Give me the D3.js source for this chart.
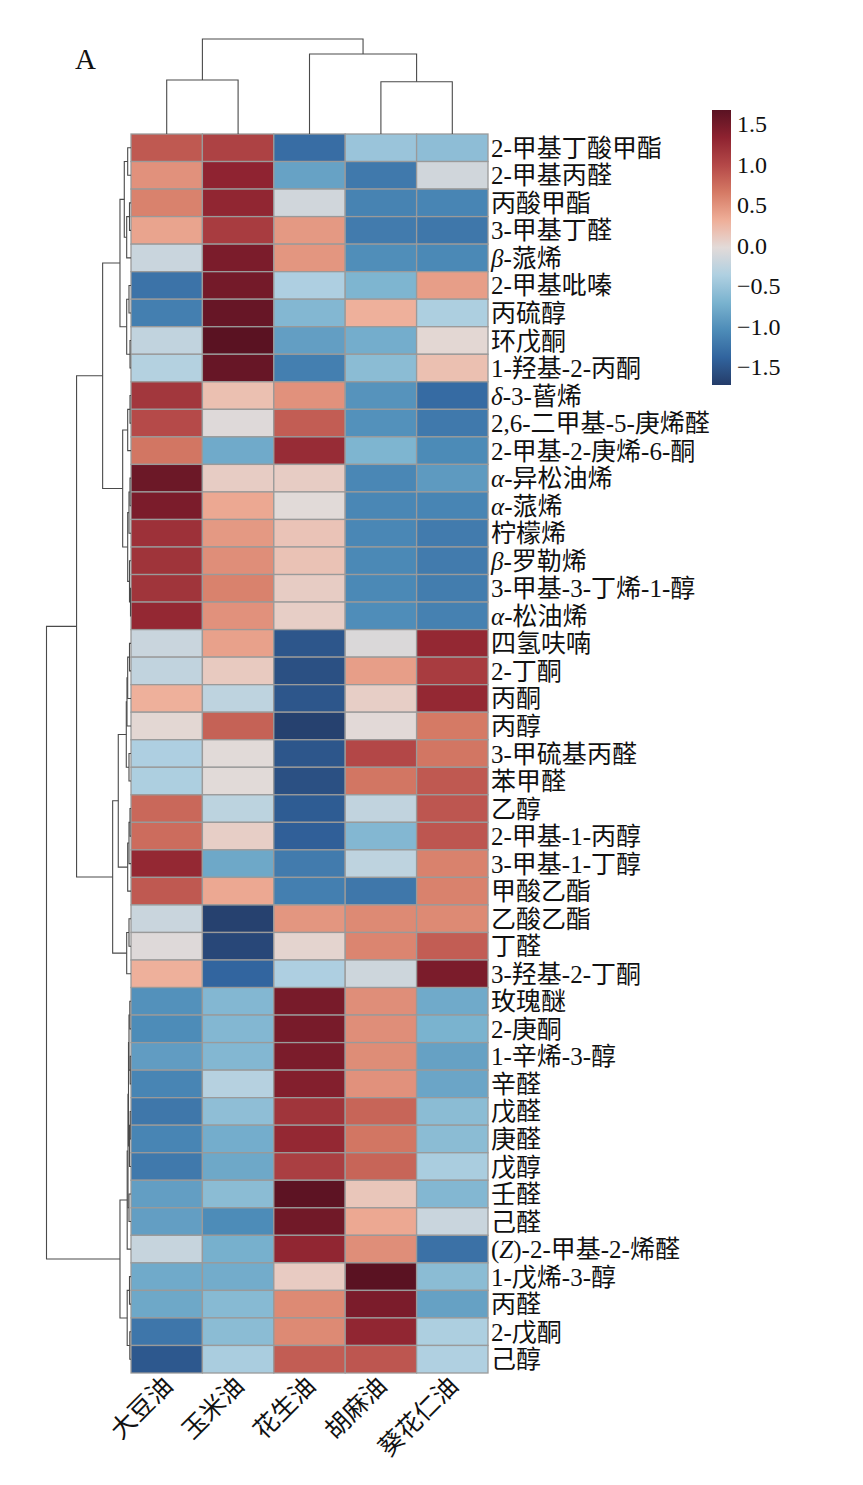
<!DOCTYPE html>
<html>
<head>
<meta charset="utf-8">
<script src="https://cdn.jsdelivr.net/npm/d3@7"></script>
<style>
  body { margin: 0; background: #fff; }
  text { font-family: "Liberation Serif", "Noto Sans CJK SC", serif; fill: #111; }
</style>
</head>
<body>
<svg id="chart" width="863" height="1485"></svg>
<script>
// columns (oils)
const oils = ["大豆油", "玉米油", "花生油", "胡麻油", "葵花仁油"];

// rows (volatile compounds), in dendrogram order
const compounds = [
  "2-甲基丁酸甲酯", "2-甲基丙醛", "丙酸甲酯", "3-甲基丁醛", "β-蒎烯",
  "2-甲基吡嗪", "丙硫醇", "环戊酮", "1-羟基-2-丙酮", "δ-3-蒈烯",
  "2,6-二甲基-5-庚烯醛", "2-甲基-2-庚烯-6-酮", "α-异松油烯", "α-蒎烯", "柠檬烯",
  "β-罗勒烯", "3-甲基-3-丁烯-1-醇", "α-松油烯", "四氢呋喃", "2-丁酮",
  "丙酮", "丙醇", "3-甲硫基丙醛", "苯甲醛", "乙醇",
  "2-甲基-1-丙醇", "3-甲基-1-丁醇", "甲酸乙酯", "乙酸乙酯", "丁醛",
  "3-羟基-2-丁酮", "玫瑰醚", "2-庚酮", "1-辛烯-3-醇", "辛醛",
  "戊醛", "庚醛", "戊醇", "壬醛", "己醛",
  "(Z)-2-甲基-2-烯醛", "1-戊烯-3-醇", "丙醛", "2-戊酮", "己醇"
];

// z-scores, one row per compound, columns in oil order
const zValues = [
  [ 0.88,  1.05, -1.30, -0.50, -0.58],
  [ 0.50,  1.32, -0.85, -1.20, -0.15],
  [ 0.60,  1.30, -0.15, -1.12, -1.10],
  [ 0.38,  1.10,  0.45, -1.18, -1.22],
  [-0.20,  1.45,  0.47, -1.02, -1.07],
  [-1.25,  1.50, -0.37, -0.68,  0.42],
  [-1.15,  1.58, -0.65,  0.30, -0.38],
  [-0.25,  1.68, -0.88, -0.75,  0.00],
  [-0.33,  1.58, -1.15, -0.60,  0.18],
  [ 1.15,  0.18,  0.50, -0.98, -1.32],
  [ 0.98, -0.05,  0.85, -1.00, -1.20],
  [ 0.68, -0.78,  1.25, -0.68, -1.05],
  [ 1.55,  0.08,  0.08, -1.08, -0.92],
  [ 1.45,  0.35, -0.03, -1.08, -1.10],
  [ 1.20,  0.45,  0.15, -1.08, -1.18],
  [ 1.18,  0.52,  0.16, -1.07, -1.18],
  [ 1.17,  0.60,  0.08, -1.07, -1.17],
  [ 1.28,  0.50,  0.07, -1.03, -1.13],
  [-0.20,  0.40, -1.50, -0.08,  1.28],
  [-0.25,  0.10, -1.55,  0.42,  1.10],
  [ 0.30, -0.27, -1.50,  0.07,  1.28],
  [ 0.00,  0.82, -1.68, -0.02,  0.65],
  [-0.37, -0.03, -1.50,  1.00,  0.68],
  [-0.38, -0.03, -1.55,  0.68,  0.88],
  [ 0.78, -0.28, -1.45, -0.25,  0.90],
  [ 0.75,  0.07, -1.42, -0.65,  0.90],
  [ 1.28, -0.80, -1.18, -0.27,  0.60],
  [ 0.88,  0.35, -1.15, -1.22,  0.60],
  [-0.20, -1.68,  0.47,  0.55,  0.55],
  [-0.05, -1.62,  0.02,  0.58,  0.85],
  [ 0.30, -1.37, -0.37, -0.17,  1.45],
  [-1.00, -0.65,  1.47,  0.52, -0.78],
  [-1.04, -0.65,  1.47,  0.52, -0.70],
  [-0.90, -0.65,  1.45,  0.53, -0.86],
  [-1.10, -0.32,  1.40,  0.50, -0.82],
  [-1.22, -0.57,  1.17,  0.80, -0.60],
  [-1.10, -0.75,  1.28,  0.68, -0.60],
  [-1.20, -0.80,  1.08,  0.80, -0.40],
  [-0.88, -0.60,  1.65,  0.13, -0.65],
  [-0.88, -1.04,  1.52,  0.35, -0.20],
  [-0.22, -0.73,  1.30,  0.52, -1.27],
  [-0.78, -0.76,  0.09,  1.68, -0.60],
  [-0.80, -0.62,  0.55,  1.45, -0.86],
  [-1.23, -0.60,  0.55,  1.30, -0.38],
  [-1.48, -0.40,  0.85,  0.90, -0.36]
];

// row clustering: [mergeHeight, left, right], leaves are row indices
const rowTree =
  [8.43,
    [5.43,
      [2.83,
        [1.10,
          [0.67, [0.33, 0, 1], [0.43, [0.15, 2, 3], 4]],
          [0.43, [0.20, 5, 6], [0.10, 7, 8]]],
        [0.83,
          [0.33, [0.10, 9, 10], 11],
          [0.33, [0.20, [0.10, 12, 13], 14], [0.15, 15, [0.05, 16, 17]]]]],
      [1.83,
        [1.27,
          [0.47, [0.40, [0.33, [0.15, 18, 19], 20], 21], [0.20, 22, 23]],
          [0.33, [0.20, [0.10, 24, 25], 26], 27]],
        [0.43, [0.20, 28, 29], 30]]],
    [1.10,
      [0.38,
        [0.30,
          [0.25, [0.20, [0.12, 31, 32], [0.08, 33, 34]], [0.15, [0.08, 35, 36], 37]],
          [0.20, 38, 39]],
        40],
      [0.38, [0.15, 41, 42], [0.12, 43, 44]]]];

// column clustering
const colTree = [9.5, [5.4, 0, 1], [8.0, 2, [5.23, 3, 4]]];

// colour bar range and ticks
const zMin = -1.72, zMax = 1.67;
const barTicks = [-1.5, -1.0, -0.5, 0.0, 0.5, 1.0, 1.5];

// ------------------------------------------------------------
const svg = d3.select("#chart");

const hm = { left: 131, right: 488, top: 134, bottom: 1373 };

const x = d3.scaleBand().domain(d3.range(oils.length)).range([hm.left, hm.right]);
const y = d3.scaleBand().domain(d3.range(compounds.length)).range([hm.top, hm.bottom]);

// RdBu_r-like ramp, slightly muted like the printed figure
const ramp = ["#243c69", "#31649e", "#4d8cb8", "#7ab3cf", "#afd0e1", "#e2dad8",
              "#eeae98", "#d57a65", "#b44848", "#8e2230", "#5a1222"];
const color = d3.scaleLinear()
    .domain(ramp.map((c, i) => zMin + i * (zMax - zMin) / (ramp.length - 1)))
    .range(ramp)
    .interpolate(d3.interpolateLab)
    .clamp(true);

// STEP 1: cells
const cells = [];
zValues.forEach((row, r) => row.forEach((v, c) => cells.push({ r, c, v })));

svg.append("g")
    .selectAll("rect")
    .data(cells)
    .enter()
    .append("rect")
        .attr("x", d => x(d.c))
        .attr("y", d => y(d.r))
        .attr("width", x.bandwidth())
        .attr("height", y.bandwidth())
        .attr("fill", d => color(d.v))
        .attr("stroke", "#9a9a9a")
        .attr("stroke-width", 1.3);

// STEP 2: dendrograms
function drawTree(g, tree, posOf, hScale, horizontal) {
    // returns {p: leaf-axis position, h: merge height}
    function walk(node) {
        if (typeof node === "number") return { p: posOf(node), h: 0 };
        const a = walk(node[1]), b = walk(node[2]);
        const h = node[0];
        const pts = [[a.p, a.h], [a.p, h], [b.p, h], [b.p, b.h]];
        const line = d3.line()
            .x(d => horizontal ? hScale(d[1]) : d[0])
            .y(d => horizontal ? d[0] : hScale(d[1]));
        g.append("path").attr("d", line(pts));
        return { p: (a.p + b.p) / 2, h };
    }
    walk(tree);
}

const rowDend = svg.append("g")
    .attr("fill", "none").attr("stroke", "#4a4a4a").attr("stroke-width", 1.1);
drawTree(rowDend, rowTree, i => y(i) + y.bandwidth() / 2,
    d3.scaleLinear().domain([0, rowTree[0]]).range([hm.left, 46.5]), true);

const colDend = svg.append("g")
    .attr("fill", "none").attr("stroke", "#4a4a4a").attr("stroke-width", 1.1);
drawTree(colDend, colTree, i => x(i) + x.bandwidth() / 2,
    d3.scaleLinear().domain([0, colTree[0]]).range([hm.top, 39]), false);

// STEP 3: row labels (Greek prefixes and Z in italic)
const italicChars = new Set(["α", "β", "δ", "Z"]);
svg.append("g")
    .selectAll("text")
    .data(compounds)
    .enter()
    .append("text")
        .attr("x", hm.right + 3)
        .attr("y", (d, i) => y(i) + y.bandwidth() / 2)
        .attr("dy", "0.36em")
        .attr("font-size", 25)
        .each(function(d) {
            const t = d3.select(this);
            Array.from(d).forEach(ch => {
                t.append("tspan")
                    .attr("font-style", italicChars.has(ch) ? "italic" : null)
                    .text(ch);
            });
        });

// column labels
svg.append("g")
    .selectAll("text")
    .data(oils)
    .enter()
    .append("text")
        .attr("transform", (d, i) => `translate(${x(i) + x.bandwidth() / 2 - 5},${hm.bottom + 2}) rotate(-45)`)
        .attr("text-anchor", "end")
        .attr("dy", "0.7em")
        .attr("font-size", 25)
        .text(d => d);

// STEP 4: colour bar
const bar = { x: 712, w: 19, top: 110, bottom: 385 };
const barY = d3.scaleLinear().domain([zMin, zMax]).range([bar.bottom, bar.top]);

const grad = svg.append("defs").append("linearGradient")
    .attr("id", "cbar").attr("x1", 0).attr("y1", 1).attr("x2", 0).attr("y2", 0);
grad.selectAll("stop")
    .data(d3.range(0, 1.0001, 0.05))
    .enter()
    .append("stop")
        .attr("offset", d => d)
        .attr("stop-color", d => color(zMin + d * (zMax - zMin)));

svg.append("rect")
    .attr("x", bar.x).attr("y", bar.top)
    .attr("width", bar.w).attr("height", bar.bottom - bar.top)
    .attr("fill", "url(#cbar)");

const barAxis = svg.append("g")
    .attr("transform", `translate(${bar.x + bar.w},0)`)
    .call(d3.axisRight(barY).tickValues(barTicks).tickSize(0).tickPadding(6)
        .tickFormat(d3.format(".1f")));
barAxis.select(".domain").remove();
barAxis.selectAll("text")
    .attr("font-size", 24)
    .attr("font-family", "Liberation Serif, serif")
    .attr("fill", "#111");

// panel letter
svg.append("text")
    .attr("x", 75).attr("y", 68.5)
    .attr("font-size", 29)
    .text("A");
</script>
</body>
</html>
